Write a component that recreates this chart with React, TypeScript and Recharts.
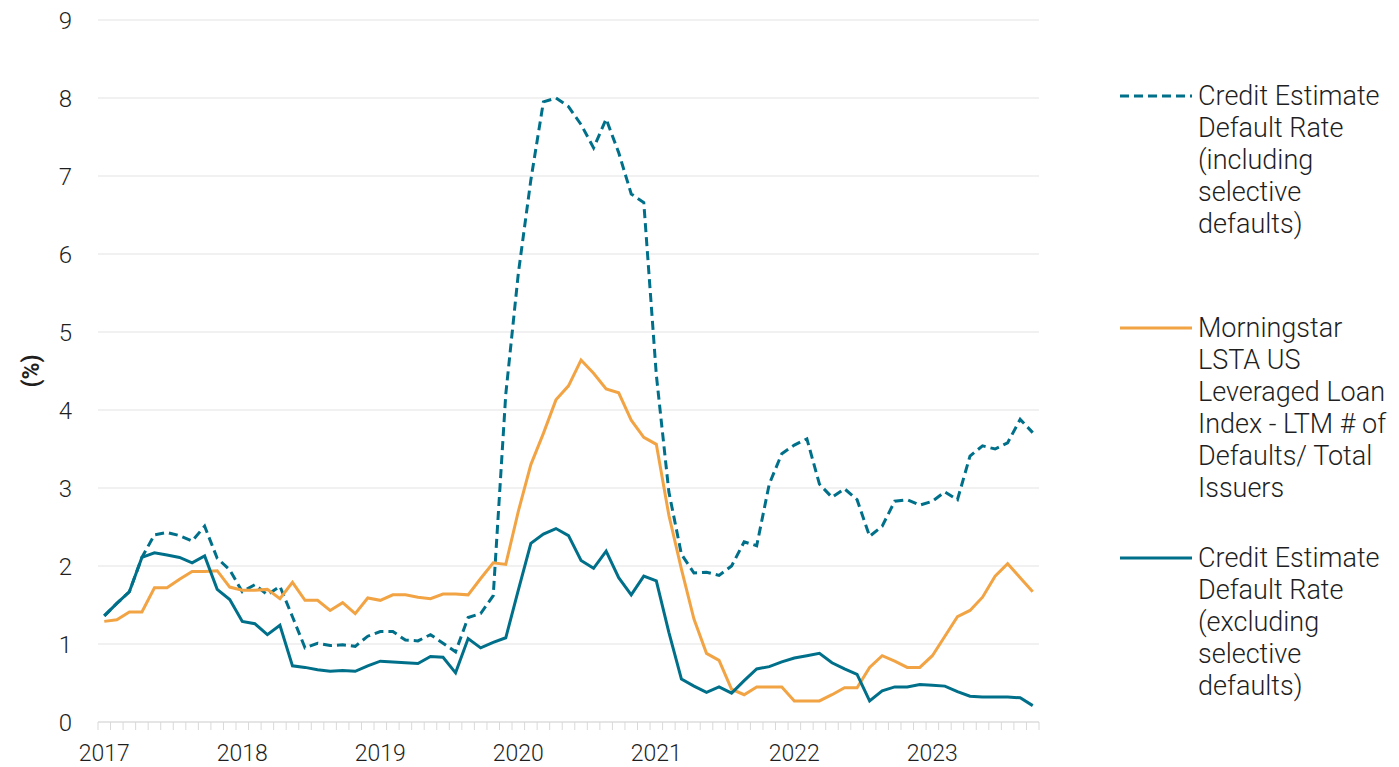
import { CartesianGrid, Line, LineChart, XAxis, YAxis } from 'recharts';

const yearLabels = ['2017', '2018', '2019', '2020', '2021', '2022', '2023'];
const pointsPerLabel = 11;

// Credit Estimate Default Rate (including selective defaults)
const inclSelective = [
  1.36, 1.52, 1.67, 2.11, 2.4, 2.43, 2.39, 2.32, 2.51, 2.1, 1.95, 1.67, 1.76, 1.63, 1.74,
  1.35, 0.95, 1.01, 0.98, 0.99, 0.97, 1.1, 1.16, 1.16, 1.05, 1.04, 1.12, 1.01, 0.9, 1.34,
  1.39, 1.62, 4.2, 5.75, 6.95, 7.95, 8.0, 7.89, 7.66, 7.36, 7.73, 7.3, 6.77, 6.66, 4.45,
  2.95, 2.15, 1.91, 1.92, 1.88, 2.0, 2.31, 2.26, 3.05, 3.44, 3.55, 3.63, 3.05, 2.88, 2.99,
  2.85, 2.38, 2.51, 2.83, 2.85, 2.78, 2.83, 2.95, 2.85, 3.41, 3.54, 3.5, 3.58, 3.88, 3.71,
];

// Morningstar LSTA US Leveraged Loan Index - LTM # of Defaults / Total Issuers
const loanIndex = [
  1.29, 1.31, 1.41, 1.41, 1.72, 1.72, 1.83, 1.93, 1.93, 1.94, 1.73, 1.69, 1.69, 1.7, 1.58,
  1.79, 1.56, 1.56, 1.43, 1.53, 1.39, 1.59, 1.56, 1.63, 1.63, 1.6, 1.58, 1.64, 1.64, 1.63,
  1.84, 2.04, 2.02, 2.7, 3.3, 3.7, 4.13, 4.31, 4.64, 4.47, 4.27, 4.22, 3.87, 3.65, 3.56,
  2.65, 1.96, 1.32, 0.88, 0.79, 0.42, 0.35, 0.45, 0.45, 0.45, 0.27, 0.27, 0.27, 0.35, 0.44,
  0.44, 0.7, 0.85, 0.78, 0.7, 0.7, 0.85, 1.1, 1.35, 1.43, 1.6, 1.87, 2.03, 1.85, 1.67,
];

// Credit Estimate Default Rate (excluding selective defaults)
const exclSelective = [
  1.36, 1.52, 1.67, 2.11, 2.17, 2.14, 2.11, 2.04, 2.13, 1.7, 1.57, 1.29, 1.26, 1.12, 1.24,
  0.72, 0.7, 0.67, 0.65, 0.66, 0.65, 0.72, 0.78, 0.77, 0.76, 0.75, 0.84, 0.83, 0.63, 1.07,
  0.95, 1.02, 1.08, 1.69, 2.29, 2.41, 2.48, 2.39, 2.07, 1.97, 2.19, 1.85, 1.63, 1.87, 1.81,
  1.15, 0.55, 0.46, 0.38, 0.45, 0.37, 0.53, 0.68, 0.71, 0.77, 0.82, 0.85, 0.88, 0.76, 0.68,
  0.61, 0.27, 0.4, 0.45, 0.45, 0.48, 0.47, 0.46, 0.39, 0.33, 0.32, 0.32, 0.32, 0.31, 0.21,
];

const yTicks = [0, 1, 2, 3, 4, 5, 6, 7, 8, 9];

const legendItems = [
  { color: '#00708A', dash: '9 5', lines: ['Credit Estimate', 'Default Rate', '(including', 'selective', 'defaults)'], top: 96 },
  { color: '#F2A444', dash: undefined, lines: ['Morningstar', 'LSTA US', 'Leveraged Loan', 'Index - LTM # of', 'Defaults/ Total', 'Issuers'], top: 328 },
  { color: '#00708A', dash: undefined, lines: ['Credit Estimate', 'Default Rate', '(excluding', 'selective', 'defaults)'], top: 558 },
];

const n = loanIndex.length;
const data = loanIndex.map((v, i) => ({
  pos: i + 0.5,
  incl: inclSelective[i],
  loan: v,
  excl: exclSelective[i],
}));

// tick marks on category boundaries, labels on category centres
const boundaryTicks = Array.from({ length: n + 1 }, (_, i) => i);
const labelTicks = yearLabels.map((_, i) => i * pointsPerLabel + 0.5);
const xTicks = [...boundaryTicks, ...labelTicks].sort((a, b) => a - b);

const FONT = 'Roboto, "Noto Sans", sans-serif';
const TEXT = '#1f1f1f';

function XTick(props: any) {
  const { x, y, payload } = props;
  const v = payload.value;
  if (Number.isInteger(v)) {
    return <line x1={x} x2={x} y1={y} y2={y + 8} stroke="#d9d9d9" strokeWidth={1} />;
  }
  const idx = Math.round((v - 0.5) / pointsPerLabel);
  return (
    <text x={x} y={y + 39} textAnchor="middle" fontFamily={FONT} fontWeight={300} fontSize={23} fill={TEXT}>
      {yearLabels[idx]}
    </text>
  );
}

function YLabel(props: any) {
  const vb = props.viewBox;
  const cx = vb.x + 31;
  const cy = vb.y + vb.height / 2;
  return (
    <text
      transform={`translate(${cx}, ${cy}) rotate(-90)`}
      textAnchor="middle"
      dominantBaseline="central"
      fontFamily={FONT}
      fontWeight={700}
      fontSize={23}
      fill={TEXT}
    >
      (%)
    </text>
  );
}

export default function App() {
  return (
    <div style={{ position: 'absolute', left: 0, top: 0, width: 1399, height: 767, background: '#fff' }}>
      <LineChart width={1399} height={767} data={data} margin={{ top: 20, right: 360, bottom: 0, left: 0 }}>
        <CartesianGrid horizontal vertical={false} stroke="#e3e3e3" strokeWidth={1} />
        <XAxis
          dataKey="pos"
          type="number"
          domain={[0, n]}
          ticks={xTicks}
          interval={0}
          height={45}
          tickSize={0}
          tickMargin={0}
          tickLine={false}
          axisLine={{ stroke: '#d9d9d9' }}
          tick={<XTick />}
        />
        <YAxis
          domain={[0, 9]}
          ticks={yTicks}
          width={98}
          axisLine={false}
          tickLine={false}
          tickSize={0}
          tickMargin={26}
          tick={{ fontFamily: FONT, fontWeight: 300, fontSize: 24, fill: TEXT }}
          label={{ content: <YLabel /> }}
        />
        <Line
          dataKey="incl"
          stroke="#00708A"
          strokeWidth={3}
          strokeDasharray="9 5"
          dot={false}
          isAnimationActive={false}
        />
        <Line dataKey="loan" stroke="#F2A444" strokeWidth={3} dot={false} isAnimationActive={false} />
        <Line dataKey="excl" stroke="#00708A" strokeWidth={3} dot={false} isAnimationActive={false} />
      </LineChart>

      {legendItems.map((item) => (
        <div key={item.lines[0] + item.top}>
          <svg
            width={74}
            height={6}
            style={{ position: 'absolute', left: 1120, top: item.top - 3 }}
          >
            <line x1={0} x2={72} y1={3} y2={3} stroke={item.color} strokeWidth={3} strokeDasharray={item.dash} />
          </svg>
          <div
            style={{
              position: 'absolute',
              left: 1198,
              top: item.top - 16,
              fontFamily: FONT,
              fontWeight: 300,
              fontSize: 27,
              lineHeight: '32px',
              color: TEXT,
              whiteSpace: 'nowrap',
            }}
          >
            {item.lines.map((l) => (
              <div key={l}>{l}</div>
            ))}
          </div>
        </div>
      ))}
    </div>
  );
}
